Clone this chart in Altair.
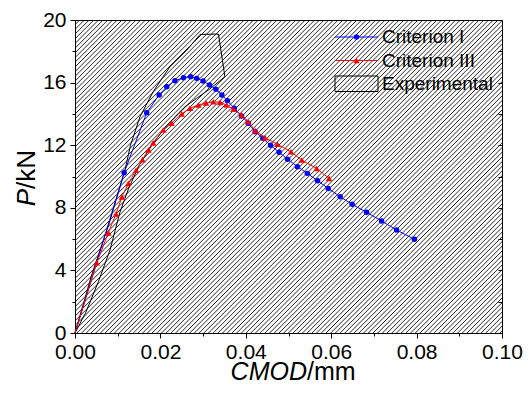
import altair as alt
import pandas as pd
import numpy as np

# ---------------- data ----------------
crit1_x = [0.0, 0.0115, 0.0168, 0.0197, 0.0215, 0.0234, 0.0254, 0.0271, 0.0285, 0.0300,
           0.0315, 0.0330, 0.0344, 0.0357, 0.0373, 0.0390, 0.0406, 0.0422, 0.0440, 0.0458,
           0.0478, 0.0498, 0.0521, 0.0544, 0.0568, 0.0593, 0.0621, 0.0649, 0.0683, 0.0718,
           0.0753, 0.0795]
crit1_p = [0.0, 10.24, 14.08, 15.21, 15.74, 16.12, 16.31, 16.38, 16.27, 16.10,
           15.85, 15.57, 15.21, 14.84, 14.36, 13.87, 13.40, 12.86, 12.44, 11.99,
           11.55, 11.10, 10.63, 10.20, 9.73, 9.24, 8.71, 8.22, 7.71, 7.16,
           6.58, 5.99]

crit3_x = [0.0, 0.0051, 0.0078, 0.0096, 0.0110, 0.0125, 0.0143, 0.0158, 0.0172, 0.0183,
           0.0207, 0.0226, 0.0250, 0.0269, 0.0289, 0.0307, 0.0324, 0.0340, 0.0355, 0.0371,
           0.0390, 0.0406, 0.0422, 0.0445, 0.0474, 0.0506, 0.0531, 0.0566, 0.0595]
crit3_p = [0.0, 4.49, 6.40, 7.60, 8.70, 9.56, 10.40, 11.08, 11.70, 12.15,
           12.97, 13.40, 14.00, 14.36, 14.57, 14.70, 14.78, 14.74, 14.57, 14.30,
           13.93, 13.50, 12.93, 12.48, 12.06, 11.58, 11.05, 10.52, 9.88]

# experimental envelope (closed outline)
exp_x = [0.0, 0.004, 0.008, 0.0117, 0.0130, 0.0152, 0.0183, 0.0222, 0.0262, 0.0293,
         0.0336, 0.0351, 0.0316, 0.0285, 0.0258, 0.0242, 0.0210, 0.0180, 0.0150, 0.0125,
         0.0105, 0.0082, 0.0055, 0.0025, 0.0]
exp_p = [0.0, 3.8, 7.0, 10.4, 12.0, 13.8, 15.42, 17.0, 18.08, 19.08,
         19.1, 16.38, 15.6, 15.0, 14.46, 14.04, 13.1, 12.0, 10.7, 9.2,
         7.7, 5.3, 3.3, 1.3, 0.0]

legend_names = ["Criterion I", "Criterion III", "Experimental"]
x_ticks = [round(i * 0.01, 2) for i in range(11)]
y_ticks = list(range(0, 21, 2))

# ---------------- layout ----------------
W, H = 427, 313
XDOM, YDOM = [0, 0.1], [0, 20]
FONT = "Liberation Sans"
BLUE, RED = "#0000ff", "#ff0000"

xs = alt.Scale(domain=XDOM, nice=False, zero=False)
ys = alt.Scale(domain=YDOM, nice=False, zero=False)

x_axis = alt.Axis(
    values=x_ticks, format=".2f", title=None, grid=False,
    labelExpr="round(datum.value*100) % 2 == 0 ? datum.label : ''",
    tickSize={"condition": {"test": "round(datum.value*100) % 2 == 0", "value": 5}, "value": 3},
    labelFontSize=21, labelFont=FONT, labelColor="black", tickColor="black",
    domainColor="black", labelPadding=3, labelFlush=False, labelOverlap=False,
)
y_axis = alt.Axis(
    values=y_ticks, title=None, grid=False,
    labelExpr="datum.value % 4 == 0 ? datum.label : ''",
    tickSize={"condition": {"test": "datum.value % 4 == 0", "value": 5}, "value": 3},
    labelFontSize=21, labelFont=FONT, labelColor="black", tickColor="black",
    domainColor="black", labelPadding=4, labelOverlap=False,
)
y_axis_right = alt.Axis(
    orient="right", values=y_ticks, title=None, grid=False, labels=False,
    tickSize=4, offset=-4, domain=False, tickColor="black",
)

# hatch pattern (decoration of the experimental fill that covers the frame)
dx_span = XDOM[1] * H / W
step = XDOM[1] * 4.7 / W
starts = np.arange(-dx_span, XDOM[1] + step, step)
hatch_df = pd.DataFrame({"x0": starts, "x1": starts + dx_span, "y0": 0.0, "y1": 20.0})

hatch = alt.Chart(hatch_df).mark_rule(clip=True, color="black", strokeWidth=0.85).encode(
    x=alt.X("x0:Q", scale=xs, axis=x_axis),
    x2="x1:Q",
    y=alt.Y("y0:Q", scale=ys, axis=y_axis),
    y2="y1:Q",
)

exp_df = pd.DataFrame({"x": exp_x, "p": exp_p, "o": range(len(exp_x))})
exp_line = alt.Chart(exp_df).mark_line(color="black", strokeWidth=1).encode(
    x=alt.X("x:Q", scale=xs, axis=x_axis),
    y=alt.Y("p:Q", scale=ys, axis=None),
    order="o:Q",
)

c1 = pd.DataFrame({"x": crit1_x, "p": crit1_p})
c3 = pd.DataFrame({"x": crit3_x, "p": crit3_p})

c1_line = alt.Chart(c1).mark_line(color=BLUE, strokeWidth=1).encode(
    x=alt.X("x:Q", scale=xs, axis=x_axis), y=alt.Y("p:Q", scale=ys, axis=y_axis_right))
c1_pts = alt.Chart(c1).transform_filter("datum.x > 0").mark_point(
    shape="circle", filled=True, size=30, color=BLUE, opacity=1).encode(
    x=alt.X("x:Q", scale=xs, axis=x_axis), y=alt.Y("p:Q", scale=ys, axis=None))
c3_line = alt.Chart(c3).mark_line(color=RED, strokeWidth=1).encode(
    x=alt.X("x:Q", scale=xs, axis=x_axis), y=alt.Y("p:Q", scale=ys, axis=None))
c3_pts = alt.Chart(c3).transform_filter("datum.x > 0").mark_point(
    shape="triangle-up", filled=True, size=42, color=RED, opacity=1).encode(
    x=alt.X("x:Q", scale=xs, axis=x_axis), y=alt.Y("p:Q", scale=ys, axis=None))

# ---------------- legend (drawn by hand) ----------------
one = pd.DataFrame({"d": [0]})
LX0, LX1, LTX = 260, 303, 307
LY = [17, 40.5, 63.5]

def leg_line(y, color):
    return alt.Chart(one).mark_rule(color=color, strokeWidth=1).encode(
        x=alt.value(LX0), x2=alt.value(LX1), y=alt.value(y))

def leg_pt(y, color, shape, size):
    return alt.Chart(one).mark_point(shape=shape, filled=True, size=size, color=color, opacity=1).encode(
        x=alt.value((LX0 + LX1) / 2), y=alt.value(y))

def leg_text(y, txt):
    return alt.Chart(one).mark_text(align="left", baseline="middle", font=FONT,
                                    fontSize=19, color="black", text=txt).encode(
        x=alt.value(LTX), y=alt.value(y))

leg_box = alt.Chart(one).mark_rect(fillOpacity=0, stroke="black", strokeWidth=1).encode(
    x=alt.value(LX0), x2=alt.value(LX1), y=alt.value(LY[2] - 7.5), y2=alt.value(LY[2] + 8))

# ---------------- axis titles with mixed styles ----------------
TX, TY = 232, 360
xt1 = alt.Chart(one).mark_text(text="CMOD", font=FONT, fontSize=25, fontStyle="italic",
                               align="right", baseline="alphabetic", color="black").encode(
    x=alt.value(TX), y=alt.value(TY))
xt2 = alt.Chart(one).mark_text(text="/mm", font=FONT, fontSize=25,
                               align="left", baseline="alphabetic", color="black").encode(
    x=alt.value(TX), y=alt.value(TY))
yt1 = alt.Chart(one).mark_text(text="P", font=FONT, fontSize=26, fontStyle="italic", angle=270,
                               align="right", baseline="alphabetic", color="black").encode(
    x=alt.value(-40), y=alt.value(169))
yt2 = alt.Chart(one).mark_text(text="/kN", font=FONT, fontSize=26, angle=270,
                               align="left", baseline="alphabetic", color="black").encode(
    x=alt.value(-40), y=alt.value(169))

chart = alt.layer(
    hatch, exp_line, c1_line, c1_pts, c3_line, c3_pts,
    leg_line(LY[0], BLUE), leg_pt(LY[0], BLUE, "circle", 30), leg_text(LY[0], legend_names[0]),
    leg_line(LY[1], RED), leg_pt(LY[1], RED, "triangle-up", 42), leg_text(LY[1], legend_names[1]),
    leg_box, leg_text(LY[2], legend_names[2]),
    xt1, xt2, yt1, yt2,
).resolve_scale(y="independent").resolve_axis(y="independent").properties(
    width=W, height=H,
    autosize=alt.AutoSizeParams(type="none"),
    padding={"left": 67, "top": 12, "right": 22, "bottom": 53},
).configure_view(stroke="black", strokeWidth=1)

chart.save("out.html", embed_options={"renderer": "svg", "actions": False})
